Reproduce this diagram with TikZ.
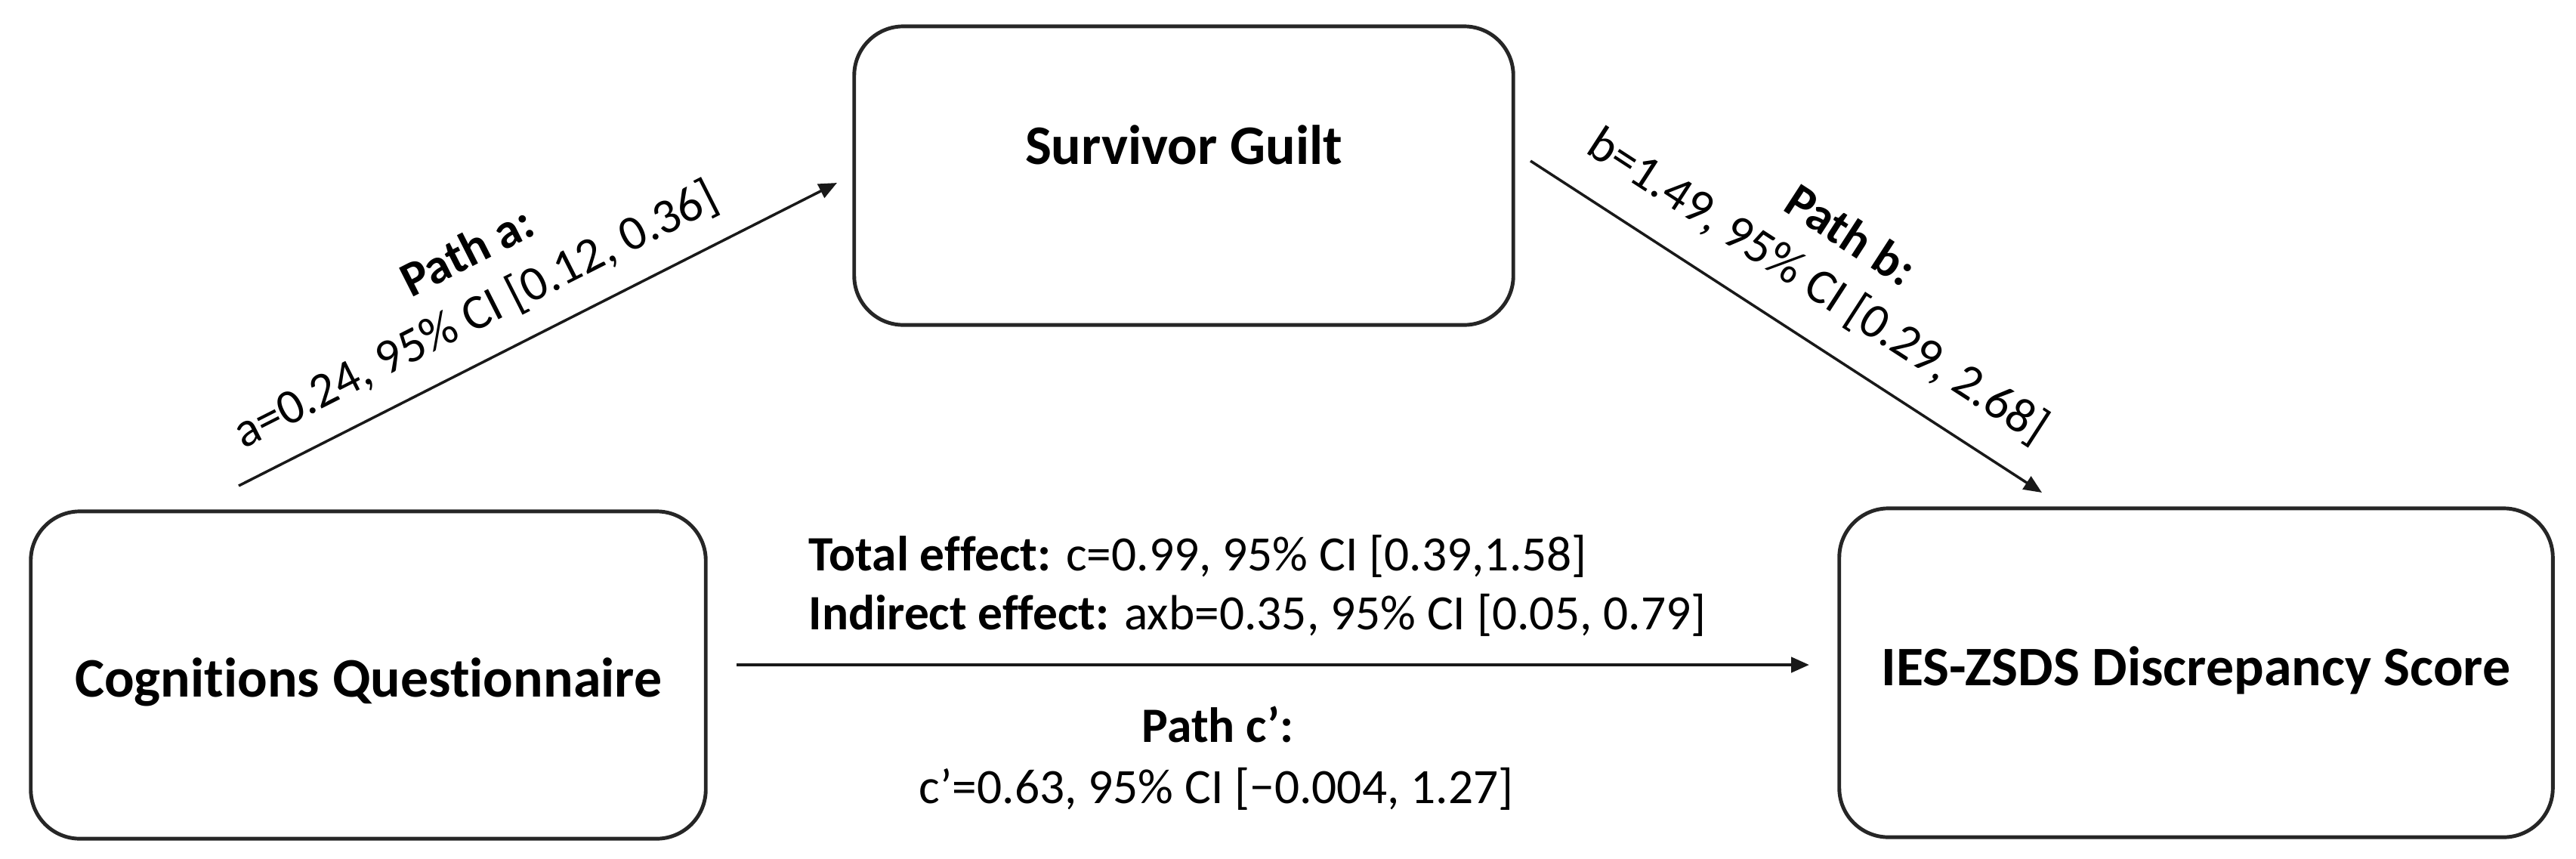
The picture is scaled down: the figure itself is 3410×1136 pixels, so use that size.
\documentclass[tikz,border=0pt]{standalone}
\usepackage{fontspec}
\setmainfont{Carlito}[Ligatures={NoCommon,NoContextual}]
\usetikzlibrary{arrows.meta}
\begin{document}
\begin{tikzpicture}[x=0.01cm,y=-0.01cm,
  box/.style={draw=black!85, line width=1.4pt, rounded corners=0.65cm, inner sep=0pt,
    font=\fontsize{21}{25}\selectfont\bfseries},
  conn/.style={draw=black!90, line width=1pt, -{Triangle[length=0.24cm,width=0.2cm]}},
  lbl/.style={font=\fontsize{18.6}{22.2}\selectfont, inner sep=0pt}
]
\fill[white] (0,0) rectangle (3410,1136);
\useasboundingbox (0,0) rectangle (3410,1136);

\node[box, minimum width=8.72cm, minimum height=3.95cm, text height=0cm, text depth=0.29cm] (sg) at (1567,232.5) {Survivor Guilt};
\node[box, minimum width=8.93cm, minimum height=4.33cm, text height=0.57cm, text depth=0cm] (cq) at (487.5,893.5) {Cognitions Questionnaire};
\node[box, minimum width=9.44cm, minimum height=4.35cm, text height=0.33cm, text depth=0cm] (ies) at (2907,890.5) {IES-ZSDS Discrepancy Score};

\coordinate (a0) at (316,643);
\coordinate (a1) at (1108,242);
\coordinate (b0) at (2026,213);
\coordinate (b1) at (2703,652);
\coordinate (c0) at (975,880);
\coordinate (c1) at (2395,880);

\draw[conn] (a0) -- node[lbl, pos=0.43, sloped, above=0.3cm, align=center] (la) {\hspace*{0.56cm}\textbf{Path a:}\\a=0.24, 95\% CI [0.12, 0.36]} (a1);
\draw[conn] (b0) -- node[lbl, pos=0.507, sloped, above=0.38cm, align=center] (lb) {\textbf{Path b:}\\b=1.49, 95\% CI [0.29, 2.68]} (b1);
\draw[conn, line width=1.3pt] (c0) -- (c1);

\node[lbl, anchor=base west] (tot) at (1070,755) {\textbf{Total effect:} c=0.99, 95\% CI [0.39,1.58]};
\node[lbl, anchor=base west] (ind) at (1070,833) {\textbf{Indirect effect:} axb=0.35, 95\% CI [0.05, 0.79]};
\node[lbl, anchor=base] (pc) at (1612,982) {\textbf{Path c’:}};
\node[lbl, anchor=base] (pcv) at (1610,1063) {c’=0.63, 95\% CI [\char"2212 0.004, 1.27]};
\end{tikzpicture}
\end{document}
